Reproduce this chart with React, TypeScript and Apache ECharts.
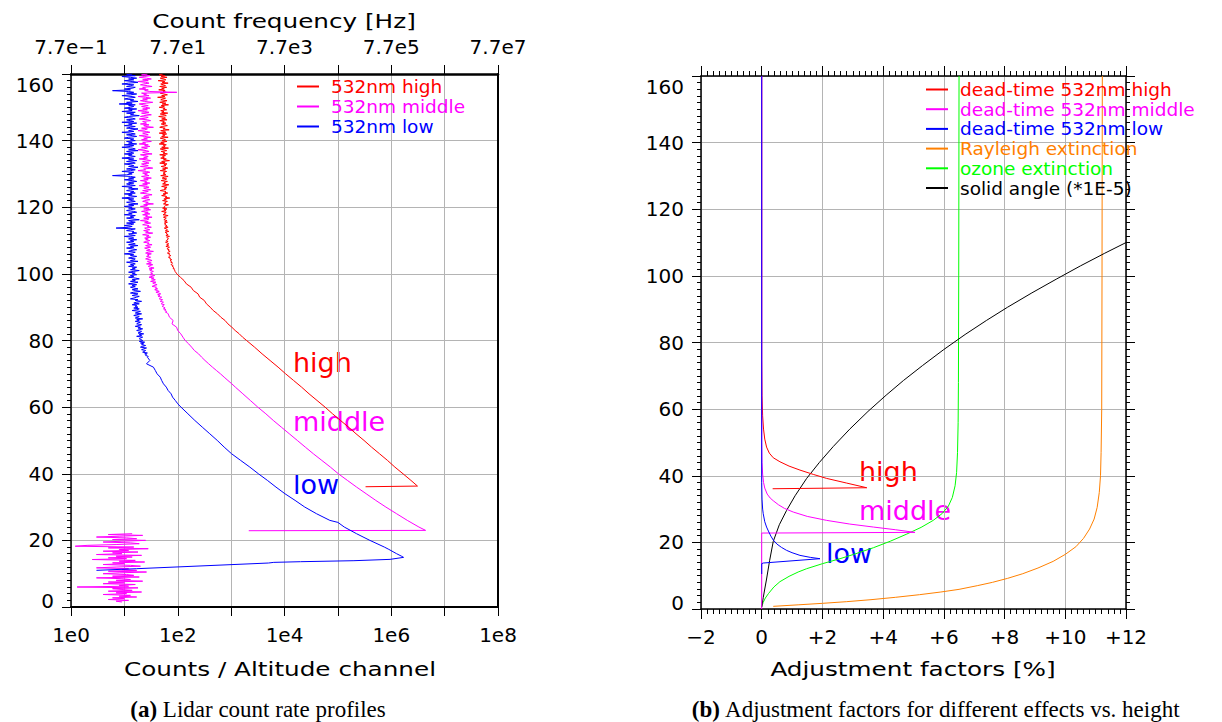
import React, { useEffect, useRef } from "react";
import * as echarts from "echarts";

const FONT = "DejaVu Sans";
const SERIF = "Liberation Serif";

// ---------- Panel (a): counts per altitude channel (x = counts, y = km) ----------
const NOISE_TOP_KM = 160;
const NOISE_STEP_KM = 0.25;
// 532nm high: background noise 160 km -> 100 km (0.25 km steps)
const highNoise = [
  52, 45, 58, 49, 63, 47, 55, 60, 43, 57, 51, 66, 48, 54, 59, 46, 62, 50, 56, 44,
  58, 53, 61, 47, 55, 64, 50, 57, 42, 59, 52, 48, 63, 55, 46, 60, 51, 67, 49, 56,
  45, 58, 53, 62, 48, 55, 50, 65, 47, 57, 61, 44, 54, 59, 50, 63, 46, 56, 52, 60,
  49, 57, 64, 51, 46, 58, 53, 69, 48, 55, 60, 45, 62, 52, 57, 50, 66, 47, 54, 59,
  51, 63, 48, 56, 45, 61, 54, 58, 50, 67, 47, 55, 62, 49, 57, 53, 64, 46, 59, 52,
  56, 48, 61, 54, 70, 50, 58, 46, 63, 55, 60, 49, 57, 65, 52, 59, 47, 62, 54, 58,
  53, 60, 48, 66, 56, 51, 62, 57, 49, 64, 55, 59, 52, 68, 58, 50, 63, 56, 61, 54,
  47, 60, 57, 65, 53, 59, 50, 62, 58, 71, 55, 61, 52, 64, 57, 60, 54, 67, 59, 56,
  58, 52, 63, 55, 60, 50, 61, 56, 59, 53, 66, 57, 54, 61, 58, 55, 63, 57, 64, 56,
  60, 57, 63, 59, 66, 56, 61, 64, 59, 68, 58, 63, 61, 66, 60, 70, 62, 65, 67, 63,
  61, 66, 59, 64, 68, 62, 67, 60, 70, 65, 63, 69, 66, 72, 67, 64, 71, 68, 74, 70,
  67, 73, 71, 77, 72, 76, 74, 80, 77, 75, 82, 79, 84, 81, 87, 85, 89, 88, 92, 94, 96,
];
const highProfile: [number, number][] = [[112, 99], [131, 98], [145, 97], [178, 96], [196, 95], [240, 94], [258, 93], [315, 92], [345, 91], [405, 90], [462, 89], [556, 88], [640, 87], [770, 86], [870, 85], [1030, 84], [1190, 83], [1420, 82], [1640, 81], [1950, 80], [2750, 78], [3800, 76], [5370, 74], [7590, 72], [10500, 70], [14800, 68], [20900, 66], [28800, 64], [40700, 62], [57500, 60], [79400, 58], [112000, 56], [158000, 54], [219000, 52], [309000, 50], [427000, 48], [603000, 46], [851000, 44], [1170000, 42], [1660000, 40], [2340000, 38], [3100000, 36.3], [330000, 36.1]];

// 532nm middle: noise 160 km -> 88 km (0.25 km steps)
const middleNoise = [
  27, 21, 30, 24, 19, 26, 32, 22, 28, 18, 25, 29, 23, 20, 27, 33, 22, 25, 19, 28,
  24, 30, 96, 21, 26, 23, 29, 18, 25, 31, 22, 27, 20, 24, 34, 26, 19, 23, 28, 21,
  25, 30, 22, 27, 18, 24, 29, 21, 26, 32, 23, 20, 28, 25, 19, 27, 31, 22, 24, 26,
  20, 29, 23, 25, 35, 21, 27, 24, 18, 26, 30, 22, 25, 28, 19, 24, 31, 23, 27, 21,
  26, 32, 22, 25, 19, 28, 24, 30, 21, 27, 23, 18, 26, 29, 22, 25, 33, 20, 24, 28,
  23, 27, 19, 26, 31, 22, 25, 29, 21, 24, 28, 20, 27, 34, 23, 25, 18, 26, 30, 22,
  27, 24, 29, 21, 25, 32, 23, 28, 20, 26, 24, 30, 22, 27, 19, 25, 29, 23, 26, 31,
  22, 28, 24, 20, 27, 33, 25, 23, 29, 21, 26, 30, 24, 22, 28, 25, 35, 23, 27, 20,
  26, 29, 23, 31, 25, 21, 28, 24, 30, 22, 27, 25, 33, 23, 29, 26, 20, 28, 24, 31,
  25, 22, 29, 27, 32, 24, 26, 30, 23, 28, 25, 34, 27, 22, 29, 26, 31, 24, 28, 25,
  30, 26, 23, 29, 27, 33, 25, 28, 31, 24, 27, 30, 26, 35, 28, 25, 32, 27, 29, 26,
  31, 28, 25, 30, 33, 27, 29, 32, 26, 34, 30, 28, 31, 36, 29, 33, 30, 35, 32, 31,
  34, 30, 37, 33, 29, 36, 32, 38, 35, 31, 39, 34, 37, 41, 36, 33, 40, 38, 42, 37,
  41, 45, 39, 44, 48, 42, 46, 43, 50, 47, 45, 52, 49, 47, 54, 51, 49, 56, 53, 51,
  55, 58, 54, 60, 57, 62, 59, 64, 66,
];
const middleProfile: [number, number][] = [[70, 87], [82, 86], [78, 85], [95, 84], [100, 83], [114, 82], [125, 81], [138, 80], [160, 79], [182, 78], [205, 77], [245, 76], [280, 75], [324, 74], [380, 73], [447, 72], [530, 71], [631, 70], [740, 69], [871, 68], [1030, 67], [1200, 66], [1660, 64], [2290, 62], [3160, 60], [4470, 58], [6170, 56], [8710, 54], [12300, 52], [17400, 50], [24500, 48], [34700, 46], [50100, 44], [72400, 42], [102000, 40], [151000, 38], [224000, 36], [339000, 34], [513000, 32], [794000, 30], [1260000, 28], [2000000, 26], [3300000, 24], [4400000, 23], [2140, 22.9]];
// 532nm middle: low-altitude noise 22 km -> 1.5 km (0.25 km steps)
const LOWER_TOP_KM = 22;
const LOWER_STEP_KM = 0.25;
const middleLowerNoise = [
  14, 5, 22, 8, 3, 11, 17, 6, 25, 9, 4, 13, 19, 7, 2, 1.2, 15, 5, 28, 8,
  12, 4, 18, 6, 9, 3, 21, 7, 14, 5, 11, 2.5, 16, 8, 24, 6, 10, 4, 13, 20,
  7, 3, 12, 9, 17, 5, 26, 8, 4, 11, 15, 6, 19, 3, 9, 13, 7, 22, 5, 10,
  4, 16, 8, 12, 1.3, 18, 6, 9, 14, 5, 21, 7, 11, 4, 13, 8, 17, 6, 10, 5,
  12, 7, 9,
];

// 532nm low: noise 160 km -> 75 km (0.25 km steps)
const lowNoise = [
  14, 11, 16, 9, 13, 17, 12, 15, 10, 14, 18, 12, 9, 15, 13, 11, 16, 14, 10, 13,
  6, 12, 15, 11, 17, 13, 9, 14, 16, 12, 10, 15, 13, 18, 11, 14, 8, 16, 12, 15,
  13, 10, 17, 12, 14, 9, 16, 11, 15, 13, 19, 12, 10, 14, 16, 11, 13, 15, 9, 17,
  12, 14, 10, 16, 13, 11, 18, 14, 12, 15, 9, 13, 16, 11, 14, 17, 12, 10, 15, 13,
  16, 11, 14, 12, 17, 10, 15, 13, 9, 14, 16, 12, 18, 11, 13, 15, 10, 14, 12, 16,
  13, 9, 15, 12, 17, 11, 14, 16, 10, 13, 15, 12, 18, 14, 11, 16, 13, 9, 15, 12,
  14, 11, 6, 13, 16, 12, 15, 10, 14, 17, 12, 15, 11, 13, 16, 9, 14, 12, 18, 13,
  11, 15, 13, 16, 10, 14, 12, 17, 13, 9, 15, 12, 14, 16, 11, 13, 18, 12, 15, 10,
  14, 12, 16, 13, 11, 15, 17, 12, 14, 10, 16, 13, 15, 11, 14, 19, 12, 13, 16, 11,
  15, 13, 10, 14, 12, 7, 16, 13, 11, 15, 14, 17, 12, 13, 16, 10, 14, 15, 12, 17,
  13, 15, 11, 14, 16, 12, 18, 13, 15, 11, 14, 17, 13, 12, 16, 14, 10, 15, 13, 17,
  14, 12, 16, 15, 13, 18, 11, 14, 16, 13, 15, 12, 17, 14, 16, 13, 19, 15, 12, 16,
  14, 17, 13, 15, 12, 16, 19, 14, 16, 13, 18, 15, 12, 17, 14, 16, 13, 15, 18, 14,
  16, 20, 15, 13, 18, 16, 14, 19, 17, 15, 13, 18, 16, 21, 17, 15, 19, 14, 17, 16,
  18, 15, 19, 17, 14, 20, 18, 16, 21, 17, 15, 19, 18, 16, 22, 17, 19, 16, 20, 18,
  17, 21, 19, 16, 20, 18, 22, 19, 17, 21, 20, 18, 23, 19, 21, 17, 22, 20, 19, 21,
  22, 19, 24, 20, 23, 21, 25, 22, 20, 26, 23, 21, 25, 24, 22, 27, 24, 26, 25, 28, 27,
];
const lowProfile: [number, number][] = [[30, 74], [26, 73], [35, 72], [38, 71], [41, 70], [47, 69], [50, 68], [54, 67], [61, 66], [66, 65], [75, 64], [80, 63], [90, 62], [100, 61], [115, 60], [155, 58], [209, 56], [288, 54], [398, 52], [550, 50], [741, 48], [1020, 46], [1510, 44], [2240, 42], [3240, 40], [4790, 38], [6920, 36], [10200, 34], [15800, 32], [24000, 30], [39800, 28], [70800, 26], [100000, 25.4], [132000, 24], [224000, 22], [398000, 20], [741000, 18], [900000, 17.3], [1260000, 16], [1580000, 15.2], [1700000, 14.9], [950000, 14.3], [200000, 13.9], [20000, 13.6], [6300, 13.4], [5000, 13.2], [17, 11.5], [3, 11.0]];

// ---------- Panel (b): adjustment factors [%] vs. height [km] ----------
const deadHigh: [number, number][] = [[0, 160], [0, 75], [0.01, 64], [0.03, 58], [0.06, 54], [0.1, 51], [0.16, 48.6], [0.25, 46.8], [0.38, 45.4], [0.6, 44.2], [0.9, 42.9], [1.26, 41.7], [1.7, 40.4], [2.14, 39.2], [2.8, 37.8], [3.46, 36.4], [0.36, 36.1]];
const deadMiddle: [number, number][] = [[0, 160], [0, 50], [0.01, 44], [0.03, 40.5], [0.06, 38], [0.1, 36.3], [0.18, 34.5], [0.28, 33.3], [0.38, 32.5], [0.55, 31.3], [0.75, 30.2], [1.04, 29.1], [1.5, 27.8], [2.14, 26.6], [2.9, 25.5], [3.68, 24.6], [4.4, 23.8], [5.05, 23.0], [0, 22.8], [0, 0]];
const deadLow: [number, number][] = [[0, 160], [0, 38], [0.01, 33], [0.03, 30], [0.05, 28.6], [0.1, 26.2], [0.16, 24.6], [0.22, 23.4], [0.3, 21.9], [0.38, 20.7], [0.5, 19.5], [0.65, 18.5], [0.82, 17.6], [1.0, 16.9], [1.26, 16.1], [1.6, 15.5], [1.92, 15.1], [0.05, 13.8], [0, 13.6], [0, 10.5]];
const rayleigh: [number, number][] = [[0.38, 0.8], [1.2, 1.25], [2.0, 1.7], [2.8, 2.2], [3.6, 2.8], [4.4, 3.5], [5.2, 4.3], [5.9, 5.1], [6.5, 5.9], [7.1, 7.0], [7.6, 8.0], [8.1, 9.2], [8.6, 10.6], [9.1, 12.3], [9.6, 14.3], [10.0, 16.4], [10.35, 18.7], [10.6, 21.2], [10.8, 24], [10.95, 27], [11.05, 30.5], [11.12, 35], [11.16, 40], [11.18, 47], [11.2, 60], [11.21, 100], [11.22, 160]];
const ozone: [number, number][] = [[0, 0.6], [0.05, 2], [0.12, 3.3], [0.22, 4.6], [0.4, 6.6], [0.6, 8.2], [0.9, 9.8], [1.2, 11.1], [1.48, 12.1], [2.0, 13.6], [2.58, 15.1], [3.1, 16.6], [3.68, 18.4], [4.25, 20.4], [4.78, 22.5], [5.25, 24.5], [5.65, 26.6], [5.95, 28.7], [6.15, 30.9], [6.28, 33.5], [6.37, 37], [6.42, 41], [6.45, 47], [6.47, 56], [6.48, 68], [6.49, 100], [6.5, 160]];
const solidAngle: [number, number][] = [[0, 0.6], [0.05, 3.4], [0.1, 6], [0.16, 9], [0.26, 14.5], [0.38, 20.3], [0.58, 25.3], [0.82, 29.6], [1.1, 34], [1.48, 39.2], [1.9, 44], [2.36, 48.8], [2.9, 54], [3.5, 59.3], [4.1, 64.2], [4.67, 68.6], [5.3, 73.1], [6.0, 77.9], [6.7, 82.4], [7.4, 86.6], [8.1, 90.6], [8.9, 94.9], [9.7, 99], [10.5, 103], [11.3, 106.8], [12, 110]];

const LEFT_NAMES = ["532nm high", "532nm middle", "532nm low"];
const RIGHT_NAMES = ["dead-time 532nm high", "dead-time 532nm middle", "dead-time 532nm low", "Rayleigh extinction", "ozone extinction", "solid angle (*1E-5)"];
const RED = "#ff0000", MAG = "#ff00ff", BLUE = "#0000ff", ORANGE = "#ff8000", GREEN = "#00ff00", BLACK = "#000000";
const GRID_COLOR = "#b4b4b4";

const noiseToPoints = (vals: number[], top: number, step: number) => vals.map((v, i) => [v, top - i * step]);

function yLabel(v: number) {
  if (v === 160) return "{t|160}";
  if (v === 0) return "{b|0}";
  return String(v);
}
const yRich = {
  t: { fontFamily: FONT, fontSize: 20, color: "#000", padding: [22, 0, 0, 0] },
  b: { fontFamily: FONT, fontSize: 20, color: "#000", padding: [0, 0, 13, 0] },
};

function expOf(v: number) {
  return Math.round(Math.log10(v));
}
function minusify(n: number) {
  return n < 0 ? "\u2212" + Math.abs(n) : String(n);
}

export default function App() {
  const ref = useRef<HTMLDivElement>(null);
  useEffect(() => {
    if (!ref.current) return;
    const chart = echarts.init(ref.current, undefined, { renderer: "svg" });

    const highData = [...noiseToPoints(highNoise, NOISE_TOP_KM, NOISE_STEP_KM), ...highProfile];
    const middleData: any[] = [
      ...noiseToPoints(middleNoise, NOISE_TOP_KM, NOISE_STEP_KM),
      ...middleProfile,
      ["-", "-"],
      ...noiseToPoints(middleLowerNoise, LOWER_TOP_KM, LOWER_STEP_KM),
    ];
    const lowData = [...noiseToPoints(lowNoise, NOISE_TOP_KM, NOISE_STEP_KM), ...lowProfile];

    const lineSeries = (name: string, data: any[], color: string, xi: number, yi: number) => ({
      type: "line",
      name,
      data,
      xAxisIndex: xi,
      yAxisIndex: yi,
      symbol: "none",
      showSymbol: false,
      connectNulls: false,
      lineStyle: { color, width: 1 },
      itemStyle: { color },
      emphasis: { disabled: true },
      z: 3,
    });

    const tickLabel = { fontFamily: FONT, fontSize: 20, color: "#000" };
    const frameLine = (w: number) => ({ show: true, onZero: false, lineStyle: { color: "#000", width: w } });
    const split = { show: true, lineStyle: { color: GRID_COLOR, width: 1 } };

    const option: any = {
      animation: false,
      backgroundColor: "#ffffff",
      textStyle: { fontFamily: FONT },
      grid: [
        { left: 71, top: 74, width: 427, height: 533 },
        { left: 701, top: 76, width: 425, height: 533 },
      ],
      xAxis: [
        {
          gridIndex: 0, type: "log", logBase: 10, min: 1, max: 1e8, splitNumber: 8, position: "bottom",
          axisLine: frameLine(2),
          axisTick: { show: true, length: 9, lineStyle: { color: "#000" } },
          axisLabel: { ...tickLabel, margin: 18, showMinLabel: true, showMaxLabel: true, formatter: (v: number) => { const e = expOf(v); return e % 2 === 0 ? "1e" + e : ""; } },
          splitLine: split,
        },
        {
          gridIndex: 0, type: "log", logBase: 10, min: 1, max: 1e8, splitNumber: 8, position: "top",
          axisLine: frameLine(2.5),
          axisTick: { show: true, length: 9, lineStyle: { color: "#000" } },
          axisLabel: { ...tickLabel, margin: 17, showMinLabel: true, showMaxLabel: true, formatter: (v: number) => { const e = expOf(v); return e % 2 === 0 ? "7.7e" + minusify(e - 1) : ""; } },
          splitLine: { show: false },
        },
        {
          gridIndex: 1, type: "value", min: -2, max: 12, interval: 2, position: "bottom",
          axisLine: frameLine(1.5),
          axisTick: { show: true, length: 10, lineStyle: { color: "#000" } },
          minorTick: { show: true, splitNumber: 10, length: 5, lineStyle: { color: "#000" } },
          axisLabel: { ...tickLabel, margin: 18, showMinLabel: true, showMaxLabel: true, formatter: (v: number) => (v > 0 ? "+" + v : minusify(v)) },
          splitLine: split,
        },
        {
          gridIndex: 1, type: "value", min: -2, max: 12, interval: 2, position: "top",
          axisLine: frameLine(1.5),
          axisTick: { show: true, length: 10, lineStyle: { color: "#000" } },
          minorTick: { show: true, splitNumber: 10, length: 5, lineStyle: { color: "#000" } },
          axisLabel: { show: false },
          splitLine: { show: false },
        },
      ],
      yAxis: [
        {
          gridIndex: 0, type: "value", min: 0, max: 160, interval: 20, position: "left",
          axisLine: frameLine(1.5),
          axisTick: { show: true, length: 9, lineStyle: { color: "#000" } },
          minorTick: { show: true, splitNumber: 10, length: 4, lineStyle: { color: "#000" } },
          axisLabel: { ...tickLabel, margin: 17, showMinLabel: true, showMaxLabel: true, formatter: yLabel, rich: yRich },
          splitLine: split,
        },
        {
          gridIndex: 0, type: "value", min: 0, max: 160, interval: 20, position: "right",
          axisLine: frameLine(2),
          axisTick: { show: false },
          axisLabel: { show: false },
          splitLine: { show: false },
        },
        {
          gridIndex: 1, type: "value", min: 0, max: 160, interval: 20, position: "left",
          axisLine: frameLine(1.5),
          axisTick: { show: true, length: 9, lineStyle: { color: "#000" } },
          minorTick: { show: true, splitNumber: 10, length: 4, lineStyle: { color: "#000" } },
          axisLabel: { ...tickLabel, margin: 17, showMinLabel: true, showMaxLabel: true, formatter: yLabel, rich: yRich },
          splitLine: split,
        },
        {
          gridIndex: 1, type: "value", min: 0, max: 160, interval: 20, position: "right",
          axisLine: frameLine(1.5),
          axisTick: { show: true, length: 9, lineStyle: { color: "#000" } },
          minorTick: { show: true, splitNumber: 10, length: 4, lineStyle: { color: "#000" } },
          axisLabel: { show: false },
          splitLine: { show: false },
        },
      ],
      legend: [
        {
          orient: "vertical", left: 291, top: 72, itemWidth: 22, itemHeight: 14, itemGap: 1,
          selectedMode: false,
          itemStyle: { opacity: 0 },
          textStyle: { fontFamily: FONT, fontSize: 18.5, padding: [0, 0, 0, 7] },
          data: [
            { name: LEFT_NAMES[0], textStyle: { color: RED } },
            { name: LEFT_NAMES[1], textStyle: { color: MAG } },
            { name: LEFT_NAMES[2], textStyle: { color: BLUE } },
          ],
        },
        {
          orient: "vertical", left: 920, top: 75, itemWidth: 22, itemHeight: 14, itemGap: 0.7,
          selectedMode: false,
          itemStyle: { opacity: 0 },
          textStyle: { fontFamily: FONT, fontSize: 18.5, padding: [0, 0, 0, 7] },
          data: [
            { name: RIGHT_NAMES[0], textStyle: { color: RED } },
            { name: RIGHT_NAMES[1], textStyle: { color: MAG } },
            { name: RIGHT_NAMES[2], textStyle: { color: BLUE } },
            { name: RIGHT_NAMES[3], textStyle: { color: ORANGE } },
            { name: RIGHT_NAMES[4], textStyle: { color: GREEN } },
            { name: RIGHT_NAMES[5], textStyle: { color: BLACK } },
          ],
        },
      ],
      series: [
        lineSeries(LEFT_NAMES[0], highData, RED, 0, 0),
        lineSeries(LEFT_NAMES[1], middleData, MAG, 0, 0),
        lineSeries(LEFT_NAMES[2], lowData, BLUE, 0, 0),
        lineSeries(RIGHT_NAMES[3], rayleigh, ORANGE, 2, 2),
        lineSeries(RIGHT_NAMES[4], ozone, GREEN, 2, 2),
        lineSeries(RIGHT_NAMES[5], solidAngle, BLACK, 2, 2),
        lineSeries(RIGHT_NAMES[0], deadHigh, RED, 2, 2),
        lineSeries(RIGHT_NAMES[1], deadMiddle, MAG, 2, 2),
        lineSeries(RIGHT_NAMES[2], deadLow, BLUE, 2, 2),
      ],
      graphic: [
        { type: "text", x: 284, y: 22, scaleX: 1.3, style: { text: "Count frequency [Hz]", fontFamily: FONT, fontSize: 19, fill: "#000", align: "center", verticalAlign: "middle" } },
        { type: "text", x: 280, y: 670, scaleX: 1.3, style: { text: "Counts / Altitude channel", fontFamily: FONT, fontSize: 19, fill: "#000", align: "center", verticalAlign: "middle" } },
        { type: "text", x: 913, y: 670, scaleX: 1.3, style: { text: "Adjustment factors [%]", fontFamily: FONT, fontSize: 19, fill: "#000", align: "center", verticalAlign: "middle" } },
        { type: "text", x: 293, y: 362, style: { text: "high", fontFamily: FONT, fontSize: 27, fill: RED, align: "left", verticalAlign: "middle" } },
        { type: "text", x: 293, y: 421, style: { text: "middle", fontFamily: FONT, fontSize: 27, fill: MAG, align: "left", verticalAlign: "middle" } },
        { type: "text", x: 293, y: 484, style: { text: "low", fontFamily: FONT, fontSize: 27, fill: BLUE, align: "left", verticalAlign: "middle" } },
        { type: "text", x: 859, y: 471, style: { text: "high", fontFamily: FONT, fontSize: 27, fill: RED, align: "left", verticalAlign: "middle" } },
        { type: "text", x: 859, y: 510, style: { text: "middle", fontFamily: FONT, fontSize: 27, fill: MAG, align: "left", verticalAlign: "middle" } },
        { type: "text", x: 826, y: 553, style: { text: "low", fontFamily: FONT, fontSize: 27, fill: BLUE, align: "left", verticalAlign: "middle" } },
        { type: "text", x: 258, y: 709, style: { text: "{b|(a)} Lidar count rate profiles", fontFamily: SERIF, fontSize: 23, fill: "#000", align: "center", verticalAlign: "middle", rich: { b: { fontFamily: SERIF, fontSize: 23, fontWeight: "bold", fill: "#000" } } } },
        { type: "text", x: 936, y: 709, style: { text: "{b|(b)} Adjustment factors for different effects vs. height", fontFamily: SERIF, fontSize: 23, fill: "#000", align: "center", verticalAlign: "middle", rich: { b: { fontFamily: SERIF, fontSize: 23, fontWeight: "bold", fill: "#000" } } } },
      ],
    };
    chart.setOption(option);
    return () => chart.dispose();
  }, []);
  return <div ref={ref} style={{ position: "absolute", left: 0, top: 0, width: 1222, height: 722, background: "#fff" }} />;
}
